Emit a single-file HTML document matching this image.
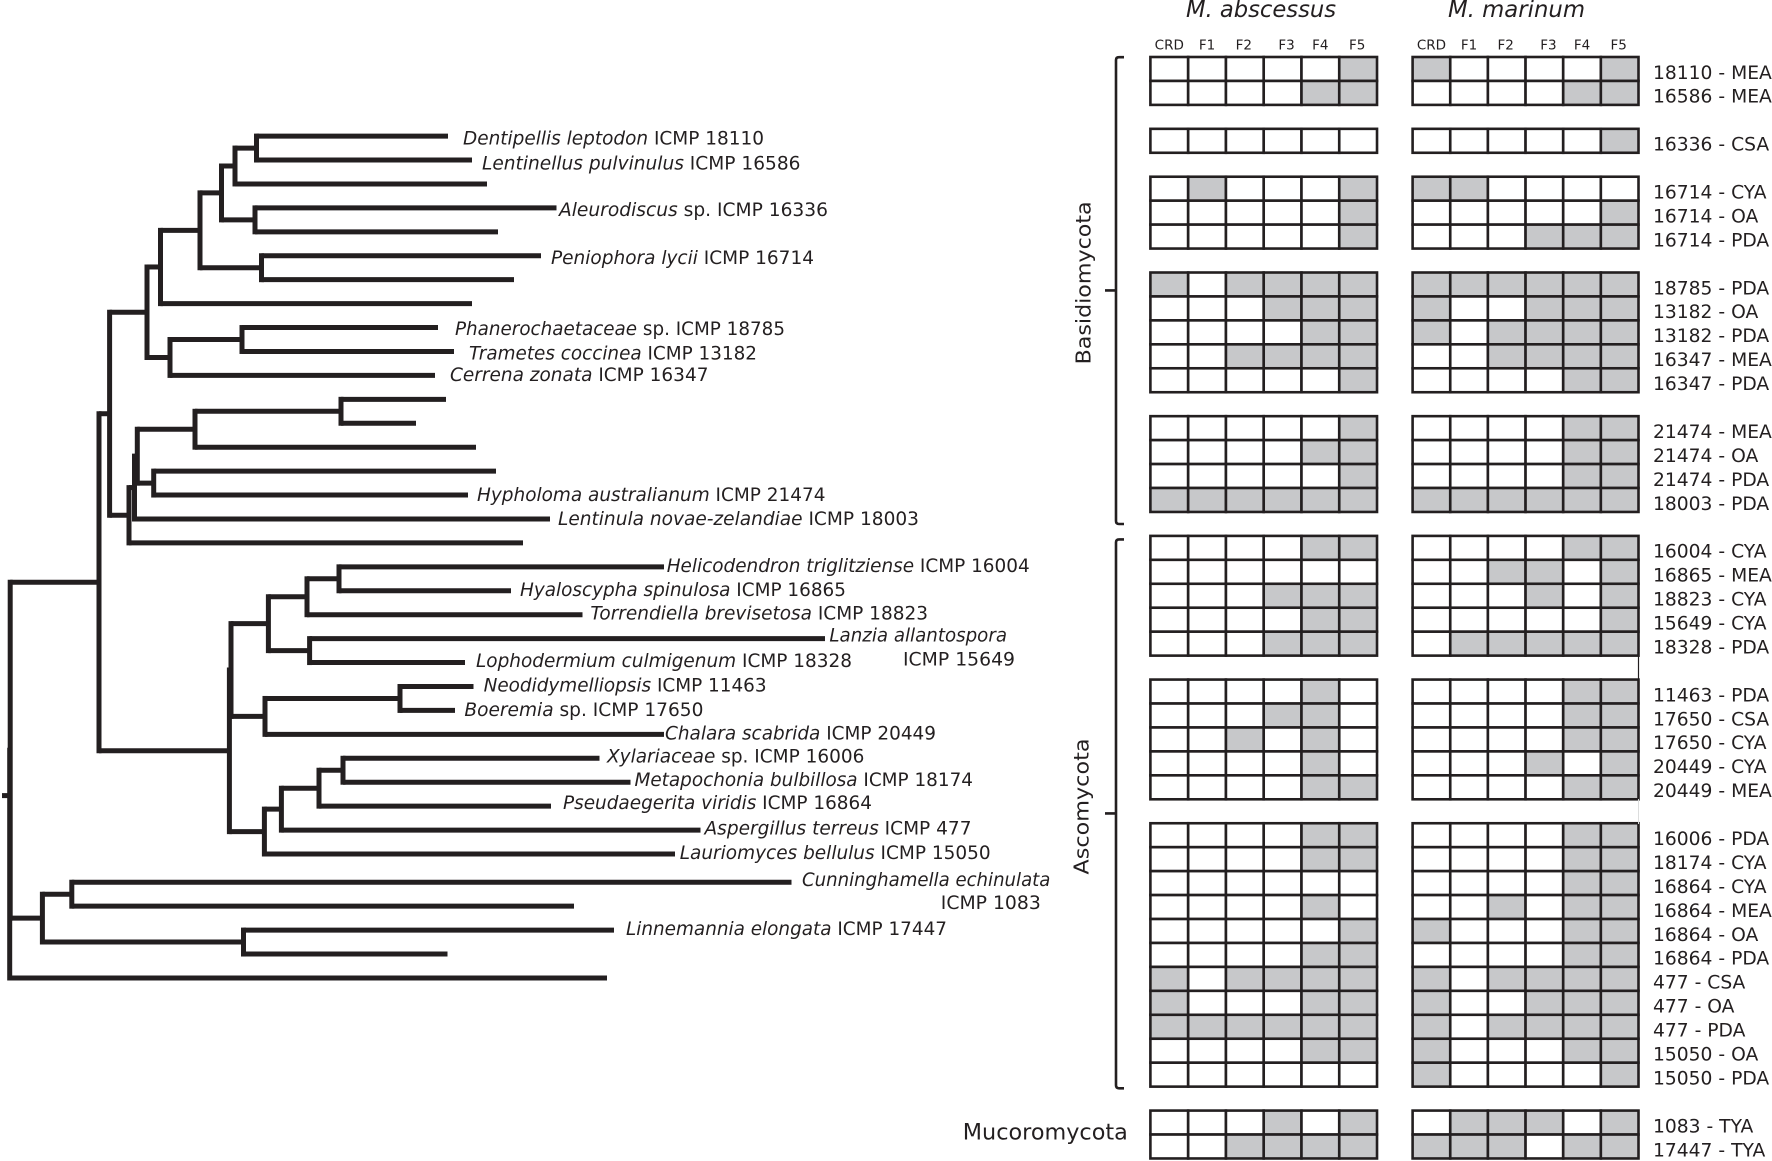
<!DOCTYPE html>
<html lang="en">
<head>
<meta charset="utf-8">
<title>Fungal phylogeny and bioactivity grid</title>
<style>
html,body{margin:0;padding:0;background:#fff;width:1772px;height:1161px;overflow:hidden}
svg{display:block}
text{font-family:"DejaVu Sans","Liberation Sans",sans-serif;fill:#231f20}
.sp{font-size:18.6px}
.sp tspan.i{font-style:italic}
.hd{font-size:13.5px;text-anchor:middle}
.rl{font-size:18.7px}
.ti{font-size:23px;font-style:italic}
.ph{font-size:22.5px}
.phr{font-size:20.5px}
</style>
</head>
<body>
<svg id="chart" xmlns="http://www.w3.org/2000/svg" width="1772" height="1161" viewBox="0 0 1772 1161">
<rect width="1772" height="1161" fill="#fff"/>
<g id="tree"></g>
<g id="species-labels">
<text class="sp" x="463" y="144.4" textLength="301" lengthAdjust="spacingAndGlyphs"><tspan class="i">Dentipellis leptodon</tspan> ICMP 18110</text>
<text class="sp" x="482" y="169.6" textLength="318.5" lengthAdjust="spacingAndGlyphs"><tspan class="i">Lentinellus pulvinulus</tspan> ICMP 16586</text>
<text class="sp" x="559" y="215.8" textLength="269" lengthAdjust="spacingAndGlyphs"><tspan class="i">Aleurodiscus</tspan> sp. ICMP 16336</text>
<text class="sp" x="551" y="263.8" textLength="263" lengthAdjust="spacingAndGlyphs"><tspan class="i">Peniophora lycii</tspan> ICMP 16714</text>
<text class="sp" x="455" y="334.8" textLength="330" lengthAdjust="spacingAndGlyphs"><tspan class="i">Phanerochaetaceae</tspan> sp. ICMP 18785</text>
<text class="sp" x="469" y="359.4" textLength="288" lengthAdjust="spacingAndGlyphs"><tspan class="i">Trametes coccinea</tspan> ICMP 13182</text>
<text class="sp" x="450" y="381.2" textLength="258.5" lengthAdjust="spacingAndGlyphs"><tspan class="i">Cerrena zonata</tspan> ICMP 16347</text>
<text class="sp" x="477" y="500.8" textLength="348.5" lengthAdjust="spacingAndGlyphs"><tspan class="i">Hypholoma australianum</tspan> ICMP 21474</text>
<text class="sp" x="558" y="524.8" textLength="361" lengthAdjust="spacingAndGlyphs"><tspan class="i">Lentinula novae-zelandiae</tspan> ICMP 18003</text>
<text class="sp" x="666.7" y="572" textLength="363" lengthAdjust="spacingAndGlyphs"><tspan class="i">Helicodendron triglitziense</tspan> ICMP 16004</text>
<text class="sp" x="520" y="596" textLength="326" lengthAdjust="spacingAndGlyphs"><tspan class="i">Hyaloscypha spinulosa</tspan> ICMP 16865</text>
<text class="sp" x="590.4" y="619.4" textLength="337.6" lengthAdjust="spacingAndGlyphs"><tspan class="i">Torrendiella brevisetosa</tspan> ICMP 18823</text>
<text class="sp" x="829.4" y="641.3" textLength="177.6" lengthAdjust="spacingAndGlyphs"><tspan class="i">Lanzia allantospora</tspan></text>
<text class="sp" x="903" y="665.3" textLength="112" lengthAdjust="spacingAndGlyphs">ICMP 15649</text>
<text class="sp" x="476" y="666.8" textLength="376" lengthAdjust="spacingAndGlyphs"><tspan class="i">Lophodermium culmigenum</tspan> ICMP 18328</text>
<text class="sp" x="483.6" y="691.7" textLength="283" lengthAdjust="spacingAndGlyphs"><tspan class="i">Neodidymelliopsis</tspan> ICMP 11463</text>
<text class="sp" x="464.4" y="715.8" textLength="239" lengthAdjust="spacingAndGlyphs"><tspan class="i">Boeremia</tspan> sp. ICMP 17650</text>
<text class="sp" x="665" y="739.4" textLength="271" lengthAdjust="spacingAndGlyphs"><tspan class="i">Chalara scabrida</tspan> ICMP 20449</text>
<text class="sp" x="607" y="762.4" textLength="257.4" lengthAdjust="spacingAndGlyphs"><tspan class="i">Xylariaceae</tspan> sp. ICMP 16006</text>
<text class="sp" x="634.5" y="786" textLength="338.5" lengthAdjust="spacingAndGlyphs"><tspan class="i">Metapochonia bulbillosa</tspan> ICMP 18174</text>
<text class="sp" x="563" y="809" textLength="309" lengthAdjust="spacingAndGlyphs"><tspan class="i">Pseudaegerita viridis</tspan> ICMP 16864</text>
<text class="sp" x="704.5" y="834.3" textLength="267" lengthAdjust="spacingAndGlyphs"><tspan class="i">Aspergillus terreus</tspan> ICMP 477</text>
<text class="sp" x="679.7" y="859" textLength="311" lengthAdjust="spacingAndGlyphs"><tspan class="i">Lauriomyces bellulus</tspan> ICMP 15050</text>
<text class="sp" x="802" y="886.2" textLength="248.4" lengthAdjust="spacingAndGlyphs"><tspan class="i">Cunninghamella echinulata</tspan></text>
<text class="sp" x="940.8" y="909" textLength="100" lengthAdjust="spacingAndGlyphs">ICMP 1083</text>
<text class="sp" x="626" y="935" textLength="321" lengthAdjust="spacingAndGlyphs"><tspan class="i">Linnemannia elongata</tspan> ICMP 17447</text>
</g>
<text class="ti" x="1186" y="17" textLength="150" lengthAdjust="spacingAndGlyphs">M. abscessus</text>
<text class="ti" x="1448" y="17" textLength="137" lengthAdjust="spacingAndGlyphs">M. marinum</text>
<text class="phr" transform="translate(1090.5 364.4) rotate(-90)" textLength="163" lengthAdjust="spacingAndGlyphs">Basidiomycota</text>
<text class="phr" transform="translate(1088.5 874.5) rotate(-90)" textLength="136" lengthAdjust="spacingAndGlyphs">Ascomycota</text>
<text class="ph" x="962.8" y="1139.5" textLength="165" lengthAdjust="spacingAndGlyphs">Mucoromycota</text>
<g fill="none" stroke="#231f20" stroke-width="2.6">
<path d="M1124 57.2H1119Q1116 57.2 1116 60V521Q1116 524 1119 524H1124M1116 290.4H1105"/>
<path d="M1124 539.4H1119Q1116 539.4 1116 542.4V1085.3Q1116 1088.3 1119 1088.3H1124M1116 813.4H1105"/>
</g>
<g id="grid-left"></g>
<g id="grid-right"></g>
<g id="headers"></g>
<g id="row-labels"></g>
<line x1="1638.5" y1="655" x2="1638.5" y2="680" stroke="#231f20" stroke-width="1.2"/>
<line x1="1638.5" y1="799" x2="1638.5" y2="824" stroke="#dcdddd" stroke-width="1"/>
</svg>
<script>
// ---- tree data (branch depths are distance from the root, in tree units) ----
const tipDepths = [438,462,477,546.5,488,531,504,462,428,444,425,436,406,466,486,458,540,513,654,501,572.5,815,455,463.5,445,654,589.5,620.5,541,690.5,665,781.5,564,604,437.5,597];
const internalChildren = [[0,1],[36,2],[3,4],[37,38],[5,6],[39,40],[41,7],[8,9],[43,10],[42,44],[11,12],[46,13],[14,15],[47,48],[49,16],[50,17],[45,51],[18,19],[53,20],[21,22],[54,55],[23,24],[57,25],[56,58],[26,27],[60,28],[61,29],[62,30],[59,63],[52,64],[31,32],[33,34],[66,67],[65,68],[69,35]];
const internalDepths = [246.5,225,245,211.5,251.5,190,150.5,232,160,137,331,185,143.7,127.3,124.5,119,99.6,329,297,299.6,258.4,390,255,221,333,309,271.4,254.4,219.4,89,61.8,233.5,32.4,0.2,-0.3];

// ---- activity grid data ----
const columnLabels = ["CRD","F1","F2","F3","F4","F5"];
const groupSizes = [2,1,3,5,4,5,5,11,2];
const rowLabels = ["18110 - MEA","16586 - MEA","16336 - CSA","16714 - CYA","16714 - OA","16714 - PDA","18785 - PDA","13182 - OA","13182 - PDA","16347 - MEA","16347 - PDA","21474 - MEA","21474 - OA","21474 - PDA","18003 - PDA","16004 - CYA","16865 - MEA","18823 - CYA","15649 - CYA","18328 - PDA","11463 - PDA","17650 - CSA","17650 - CYA","20449 - CYA","20449 - MEA","16006 - PDA","18174 - CYA","16864 - CYA","16864 - MEA","16864 - OA","16864 - PDA","477 - CSA","477 - OA","477 - PDA","15050 - OA","15050 - PDA","1083 - TYA","17447 - TYA"];
const abscessusCells = [
[0,0,0,0,0,1],[0,0,0,0,1,1],
[0,0,0,0,0,0],
[0,1,0,0,0,1],[0,0,0,0,0,1],[0,0,0,0,0,1],
[1,0,1,1,1,1],[0,0,0,1,1,1],[0,0,0,0,1,1],[0,0,1,1,1,1],[0,0,0,0,0,1],
[0,0,0,0,0,1],[0,0,0,0,1,1],[0,0,0,0,0,1],[1,1,1,1,1,1],
[0,0,0,0,1,1],[0,0,0,0,0,0],[0,0,0,1,1,1],[0,0,0,0,1,1],[0,0,0,1,1,1],
[0,0,0,0,1,0],[0,0,0,1,1,0],[0,0,1,0,1,0],[0,0,0,0,1,0],[0,0,0,0,1,1],
[0,0,0,0,1,1],[0,0,0,0,1,1],[0,0,0,0,0,0],[0,0,0,0,1,0],[0,0,0,0,0,1],[0,0,0,0,1,1],[1,0,1,1,1,1],[1,0,0,0,1,1],[1,1,1,1,1,1],[0,0,0,0,1,1],[0,0,0,0,0,0],
[0,0,0,1,0,1],[0,0,1,1,1,1]];
const marinumCells = [
[1,0,0,0,0,1],[0,0,0,0,1,1],
[0,0,0,0,0,1],
[1,1,0,0,0,0],[0,0,0,0,0,1],[0,0,0,1,1,1],
[1,1,1,1,1,1],[1,0,0,1,1,1],[1,0,1,1,1,1],[0,0,1,1,1,1],[0,0,0,0,1,1],
[0,0,0,0,1,1],[0,0,0,0,1,1],[0,0,0,0,1,1],[1,1,1,1,1,1],
[0,0,0,0,1,1],[0,0,1,1,0,1],[0,0,0,1,0,1],[0,0,0,0,0,1],[0,1,1,1,1,1],
[0,0,0,0,1,1],[0,0,0,0,1,1],[0,0,0,0,1,1],[0,0,0,1,0,1],[0,0,0,0,1,1],
[0,0,0,0,1,1],[0,0,0,0,1,1],[0,0,0,0,1,1],[0,0,1,0,1,1],[1,0,0,0,1,1],[0,0,0,0,1,1],[1,0,1,1,1,1],[1,0,0,1,1,1],[1,0,1,1,1,1],[1,0,0,0,1,1],[1,0,0,0,0,1],
[0,1,1,1,0,1],[1,1,1,0,1,1]];

const NS = "http://www.w3.org/2000/svg";
function mk(parent, tag, attrs){
  const el = document.createElementNS(NS, tag);
  for (const k in attrs) el.setAttribute(k, attrs[k]);
  parent.appendChild(el);
  return el;
}

// ---- tree axes ----
const treeX = d => 10 + d;
const tipY = i => 136.1 + (i + (i >= 31 ? 0.18 : 0)) * 23.93;
const INK = "#231f20", TREE_W = 5;
const tipCount = tipDepths.length;
const nodeDepth = i => i < tipCount ? tipDepths[i] : internalDepths[i - tipCount];
const memo = {};
function nodeY(i){
  if (i < tipCount) return tipY(i);
  if (memo[i] !== undefined) return memo[i];
  const kids = internalChildren[i - tipCount];
  memo[i] = (nodeY(kids[0]) + nodeY(kids[1])) / 2;
  return memo[i];
}
const treeG = document.getElementById("tree");
internalChildren.forEach((kids, n) => {
  const id = n + tipCount;
  const x = treeX(nodeDepth(id));
  const ys = kids.map(nodeY);
  const v = mk(treeG, "line", {x1:x, x2:x, y1:Math.min(...ys) - TREE_W/2, y2:Math.max(...ys) + TREE_W/2, stroke:INK, "stroke-width":TREE_W});
  
  
  kids.forEach(k => {
    const h = mk(treeG, "line", {x1:x, x2:treeX(nodeDepth(k)), y1:nodeY(k), y2:nodeY(k), stroke:INK, "stroke-width":TREE_W});
    
    
  });
});
const stub = mk(treeG, "line", {x1:2, x2:treeX(0), y1:795.6, y2:795.6, stroke:INK, "stroke-width":TREE_W});



// ---- grid axes ----
const ROW_H = 23.945, CELL_L = 37.77, CELL_R = 37.65;
const slotOf = [];
(function(){ let s = 0; groupSizes.forEach(g => { for (let i = 0; i < g; i++) slotOf.push(s++); s++; }); })();
const rowY = r => 57 + slotOf[r] * ROW_H;
function drawGrid(gEl, cells, x0, w){
  cells.forEach((row, r) => {
    row.forEach((v, c) => {
      const rect = mk(gEl, "rect", {x:x0 + c*w, y:rowY(r), width:w, height:ROW_H, fill:v ? "#c7c8ca" : "#ffffff", stroke:INK, "stroke-width":2.6});
      
      
    });
  });
}
drawGrid(document.getElementById("grid-left"), abscessusCells, 1150.4, CELL_L);
drawGrid(document.getElementById("grid-right"), marinumCells, 1412.6, CELL_R);

// ---- column headers (F3 sits slightly right of its column in the original) ----
const headG = document.getElementById("headers");
const headShift = [0,0,-1,4,0,-1];
[[1150.4,CELL_L],[1412.6,CELL_R]].forEach(([x0,w]) => {
  columnLabels.forEach((t, c) => {
    const h = mk(headG, "text", {class:"hd", x:x0 + (c+0.5)*w + headShift[c], y:49.5});
    h.textContent = t;
    
    
  });
});

// ---- row labels ----
const rowG = document.getElementById("row-labels");
rowLabels.forEach((t, r) => {
  const l = mk(rowG, "text", {class:"rl", x:1653, y:rowY(r) + ROW_H/2 + 9.8});
  l.textContent = t;
  
  
});
</script>
</body>
</html>
